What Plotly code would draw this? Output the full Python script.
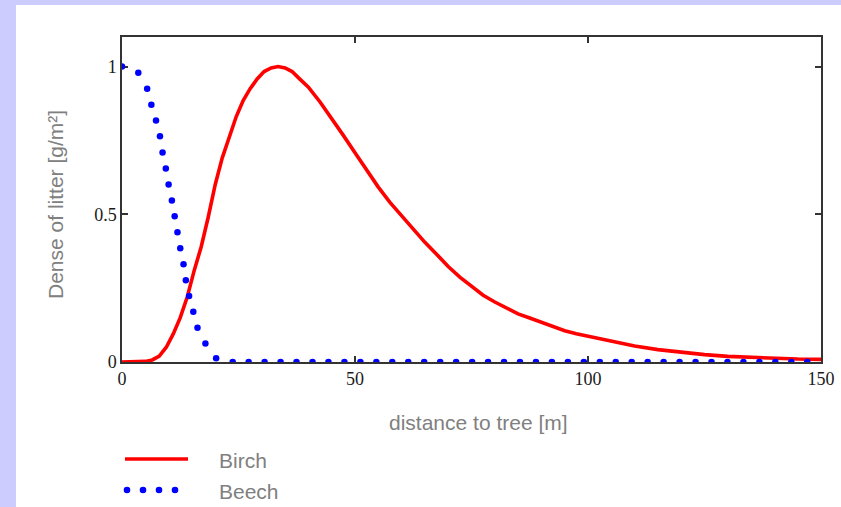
import plotly.graph_objects as go

# ---- data ----
birch_x = [0, 2.5, 5, 6.5, 8, 9.5, 11, 12.5, 14, 15.5, 17, 18.5, 20, 21.5, 23, 24.5, 26,
           27.5, 29, 30.5, 32, 33.5, 35, 36.5, 38, 40, 42.5, 45, 47.5, 50, 52.5, 55, 57.5,
           60, 62.5, 65, 67.5, 70, 72.5, 75, 77.5, 80, 82.5, 85, 87.5, 90, 92.5, 95, 97.5,
           100, 105, 110, 115, 120, 125, 130, 135, 140, 145, 150]
birch_y = [0, 0, 0.002, 0.007, 0.02, 0.05, 0.095, 0.15, 0.22, 0.31, 0.39, 0.49, 0.60,
           0.69, 0.765, 0.83, 0.885, 0.925, 0.958, 0.983, 0.995, 1.0, 0.995, 0.983, 0.96,
           0.93, 0.88, 0.825, 0.767, 0.708, 0.648, 0.592, 0.54, 0.495, 0.448, 0.405,
           0.365, 0.323, 0.287, 0.255, 0.226, 0.203, 0.182, 0.163, 0.149, 0.135, 0.12,
           0.106, 0.096, 0.088, 0.07, 0.054, 0.042, 0.032, 0.025, 0.019, 0.015, 0.012,
           0.01, 0.009]

beech_x = [0, 3.5, 5.4, 6.3, 7.3, 8.15, 8.7, 9.4, 10.0, 10.7, 11.3, 11.9, 12.5, 13.2,
           13.7, 14.4, 15.3, 16.2, 17.9, 20.2, 23.75, 27.18, 30.6, 34.03, 37.45, 40.88,
           44.3, 47.73, 51.15, 54.58, 58.0, 61.43, 64.85, 68.28, 71.7, 75.13, 78.55,
           81.98, 85.4, 88.83, 92.25, 95.68, 99.1, 102.53, 105.95, 109.38, 112.8,
           116.23, 119.65, 123.08, 126.5, 129.93, 133.35, 136.78, 140.2, 143.63, 147.05]
beech_y = [1.0, 0.979, 0.925, 0.871, 0.817, 0.764, 0.709, 0.655, 0.601, 0.547, 0.493,
           0.439, 0.385, 0.331, 0.277, 0.223, 0.170, 0.116, 0.063, 0.0125] + [0] * 37

x_ticks = [0, 50, 100, 150]
y_ticks = [0, 0.5, 1]
y_tick_labels = ["0", "0.5", "1"]
series_names = ["Birch", "Beech"]

# ---- figure ----
W, H = 841, 507
ML, MR, MT, MB = 122, 20, 37, 145
PW, PH = W - ML - MR, H - MT - MB


def px2paper_x(px):
    return (px - ML) / PW


def px2paper_y(py):
    return (H - MB - py) / PH


fig = go.Figure()
fig.add_trace(go.Scatter(x=birch_x, y=birch_y, mode="lines", name=series_names[0],
                         line=dict(color="#ff0000", width=3.6), cliponaxis=False,
                         showlegend=False, hoverinfo="skip"))
fig.add_trace(go.Scatter(x=beech_x, y=beech_y, mode="markers", name=series_names[1],
                         marker=dict(color="#0000ff", size=6.5, line=dict(width=0)),
                         cliponaxis=True, showlegend=False, hoverinfo="skip"))

shapes = [
    # white panel on lavender page (kept inside the figure bounds)
    dict(type="rect", xref="paper", yref="paper", layer="below",
         x0=px2paper_x(16), x1=px2paper_x(W), y0=px2paper_y(H), y1=px2paper_y(5),
         fillcolor="#ffffff", line=dict(width=0)),
    # legend: Birch line
    dict(type="line", xref="paper", yref="paper",
         x0=px2paper_x(125), x1=px2paper_x(188), y0=px2paper_y(459), y1=px2paper_y(459),
         line=dict(color="#ff0000", width=3.6)),
]
for cx in [127, 143, 159, 175]:
    shapes.append(dict(type="circle", xref="paper", yref="paper",
                       xsizemode="pixel", ysizemode="pixel",
                       xanchor=px2paper_x(cx), yanchor=px2paper_y(490),
                       x0=-3.3, x1=3.3, y0=-3.3, y1=3.3,
                       fillcolor="#0000ff", line=dict(width=0)))

title_font = dict(family="Liberation Sans, Arial, sans-serif", size=21, color="#808080")
annotations = [
    dict(text="Dense of litter [g/m²]", textangle=-90, xref="paper", yref="paper",
         x=px2paper_x(55), y=px2paper_y(205), showarrow=False, font=title_font,
         xanchor="center", yanchor="middle"),
    dict(text="distance to tree [m]", xref="paper", yref="paper",
         x=px2paper_x(478), y=px2paper_y(423), showarrow=False, font=title_font,
         xanchor="center", yanchor="middle"),
    dict(text=series_names[0], xref="paper", yref="paper",
         x=px2paper_x(217), y=px2paper_y(460), showarrow=False, font=title_font,
         xanchor="left", yanchor="middle"),
    dict(text=series_names[1], xref="paper", yref="paper",
         x=px2paper_x(217), y=px2paper_y(491), showarrow=False, font=title_font,
         xanchor="left", yanchor="middle"),
]

tick_font = dict(family="Liberation Serif, Times New Roman, serif", size=18, color="#1a1a1a")
axis_common = dict(showline=True, linecolor="#333333", linewidth=1.5, mirror="allticks",
                   ticks="inside", ticklen=6, tickwidth=1.5, tickcolor="#333333",
                   showgrid=False, zeroline=False, tickfont=tick_font, automargin=False,
                   layer="below traces", fixedrange=True)

fig.update_layout(
    width=W, height=H, autosize=False,
    margin=dict(l=ML, r=MR, t=MT, b=MB, autoexpand=False),
    paper_bgcolor="#ccccff", plot_bgcolor="#ffffff",
    xaxis=dict(range=[0, 150], tickvals=x_ticks, ticktext=[str(v) for v in x_ticks],
               **axis_common),
    yaxis=dict(range=[0, 1.1], tickvals=y_ticks, ticktext=y_tick_labels, **axis_common),
    shapes=shapes, annotations=annotations, showlegend=False,
)

fig.write_html("out.html",
               config={"displayModeBar": False, "responsive": False},
               post_script="document.body.style.margin='0';"
                           "document.documentElement.style.overflow='hidden';"
                           "document.body.style.overflow='hidden';")
